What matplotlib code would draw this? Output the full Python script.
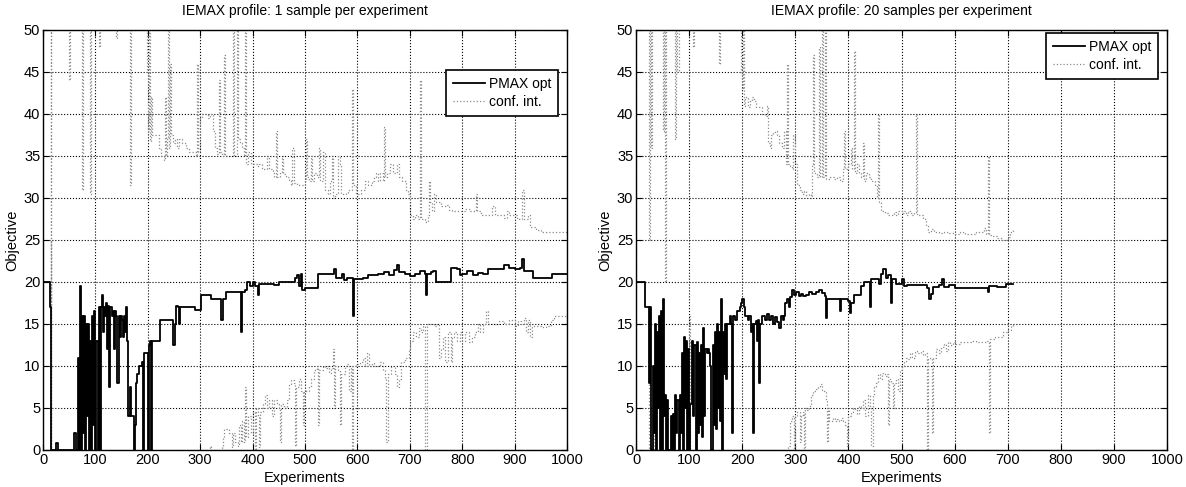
#PURPOSE: IEMAX profile plots, 1 vs 20 samples per experiment

import numpy as np
import matplotlib.pyplot as plt

plt.rcParams['font.family'] = ['Liberation Sans', 'DejaVu Sans']

titles = ['IEMAX profile: 1 sample per experiment', 'IEMAX profile: 20 samples per experiment']
legend_labels = ['PMAX opt', 'conf. int.']

# ---- left panel: 1 sample per experiment ----
# PMAX opt
left_opt_x = [0, 12, 13, 15, 16, 24, 25, 28, 29, 58, 59, 62, 63, 66, 68, 70, 72, 74, 76, 78, 80, 82, 84, 86, 88, 90, 92, 94, 96, 98, 100, 102, 104, 106, 108, 110, 112, 114, 116, 118, 120, 122, 124, 126, 128, 132, 134, 136, 138, 140, 142, 144, 146, 148, 150, 152, 154, 156, 158, 160, 162, 165, 167, 172, 174, 176, 178, 180, 184, 188, 190, 192, 198, 200, 202, 204, 206, 208, 222, 224, 246, 248, 252, 254, 258, 260, 262, 280, 290, 300, 302, 320, 335, 340, 344, 350, 372, 377, 380, 385, 390, 395, 400, 405, 410, 412, 430, 440, 450, 460, 470, 480, 485, 488, 492, 495, 500, 520, 525, 540, 550, 555, 560, 570, 575, 580, 590, 592, 594, 610, 620, 640, 650, 660, 670, 675, 680, 690, 700, 710, 720, 728, 730, 732, 740, 745, 750, 775, 778, 790, 795, 800, 810, 820, 830, 840, 850, 870, 880, 890, 900, 910, 915, 918, 925, 935, 970, 972, 1000]
left_opt_y = [20, 20, 17, 17, 0, 0, 0.8, 0.8, 0, 0, 2, 2, 0, 11, 0, 19.5, 0, 16, 2, 16, 0, 15, 4, 15, 0, 13, 0, 16, 3, 16.5, 0, 13, 0, 17, 0, 17, 18.5, 14, 17, 16, 17.5, 12, 17.2, 7.5, 17, 16, 16.5, 12, 16.5, 16, 8, 16, 13.5, 16, 15.5, 13.5, 16, 14, 17, 13, 4, 7.5, 4, 4, 0, 3, 8, 9, 10, 10.5, 0, 11.5, 11.5, 0, 12.5, 13, 0, 13, 13, 15.5, 15.5, 12.5, 15, 17.2, 17, 15, 17, 17, 16.7, 16.7, 18.5, 18, 18, 15.5, 18, 18.8, 18.8, 14, 18.8, 19, 20, 19.5, 20, 19.5, 18.4, 19.8, 19.8, 19.7, 20, 20, 20, 20.5, 20.8, 19.5, 21, 19, 19.3, 19.3, 21, 21, 21, 21.5, 20.5, 21, 20.2, 20.5, 20.5, 16, 20.3, 20.5, 20.8, 21, 21.2, 20.8, 21.4, 22, 21.2, 21, 20.7, 21, 21.3, 21, 18.5, 21, 21.2, 21.3, 20, 20, 21.7, 21.5, 20.8, 21, 21.3, 20.8, 21.1, 21, 21.5, 21.5, 22, 21.7, 21.5, 21.7, 22.7, 21.3, 21.3, 20.5, 20.5, 21, 21]

# conf. int., upper bound (values above 50 are off the chart)
left_up_x = [5, 14, 15, 16, 48, 50, 52, 72, 74, 76, 88, 90, 92, 104, 106, 108, 138, 140, 142, 163, 165, 167, 196, 198, 200, 202, 204, 206, 208, 212, 218, 222, 226, 230, 232, 234, 236, 238, 240, 242, 244, 248, 252, 256, 260, 266, 272, 278, 286, 292, 294, 296, 300, 304, 310, 314, 318, 322, 325, 328, 332, 335, 337, 342, 346, 348, 360, 362, 364, 368, 370, 372, 376, 380, 384, 386, 388, 392, 396, 400, 404, 408, 412, 418, 424, 428, 432, 438, 440, 444, 446, 452, 456, 458, 464, 470, 474, 476, 478, 484, 490, 496, 500, 502, 504, 508, 512, 514, 518, 522, 526, 528, 532, 535, 538, 544, 548, 552, 554, 558, 562, 566, 568, 572, 578, 582, 588, 590, 592, 598, 602, 606, 610, 614, 620, 628, 632, 636, 640, 644, 648, 650, 652, 656, 662, 668, 672, 676, 680, 686, 692, 696, 700, 706, 710, 716, 720, 722, 728, 734, 736, 738, 742, 746, 750, 754, 760, 770, 775, 780, 786, 800, 805, 815, 820, 826, 828, 836, 846, 850, 856, 862, 874, 880, 885, 890, 905, 910, 915, 918, 925, 930, 940, 950, 960, 970, 1000]
left_up_y = [60, 60, 0, 60, 60, 44, 60, 60, 31, 60, 60, 30.5, 60, 60, 48, 60, 60, 49, 60, 60, 31.5, 60, 60, 45, 38, 50, 36.8, 42, 37.5, 37.5, 37.5, 36, 35, 34.5, 42, 35, 37, 50, 36, 46, 37.5, 36.5, 37, 36, 37, 36.5, 36, 35.5, 35.5, 35, 46, 35.5, 39.5, 40, 40, 39.5, 40, 40, 38, 36, 35.2, 44, 35.5, 35, 47, 35, 35, 50, 35, 35, 50, 37, 36.5, 36, 35, 50, 34, 35.5, 34, 34, 34, 33.8, 34, 33.5, 33.5, 35, 33.5, 33, 32.5, 38, 32.5, 33, 35, 32.8, 32.5, 32.2, 31.5, 36, 31.8, 31.5, 31.5, 31.5, 32, 37, 32.5, 32, 35, 32, 33, 32.5, 36, 32, 32, 35.5, 31, 30.5, 32, 35, 30, 30.5, 35, 34, 30.5, 30.5, 30.6, 31, 31, 43, 31.5, 30.5, 30.5, 31, 31, 32, 31.5, 32, 32.5, 33, 32, 33, 32, 38.5, 32.5, 33, 34, 33, 33, 34, 32.5, 32, 31, 30.5, 28, 27.5, 28, 27.5, 44, 27.5, 27.2, 28, 32, 29.5, 28.5, 30.5, 29.5, 29.5, 29, 29.2, 28.6, 28.5, 28.5, 28.5, 28.7, 28.4, 28.5, 30.5, 28.5, 28, 28, 28, 29, 28, 28, 27.6, 28.5, 28, 27.5, 27.5, 31, 27.5, 28, 26.5, 26.2, 26, 26, 25.9, 26]

# conf. int., lower bound (values below 0 are off the chart)
left_lo_x = [0, 14, 15, 16, 315, 318, 320, 340, 342, 344, 346, 350, 355, 360, 362, 366, 372, 374, 378, 380, 384, 386, 388, 392, 396, 400, 404, 406, 410, 412, 414, 420, 424, 428, 432, 436, 440, 446, 450, 452, 454, 460, 466, 470, 474, 478, 480, 482, 488, 492, 496, 498, 504, 508, 512, 518, 522, 524, 526, 530, 534, 538, 542, 546, 550, 554, 556, 558, 562, 566, 568, 572, 576, 580, 584, 588, 590, 592, 598, 604, 610, 614, 618, 622, 628, 632, 638, 644, 648, 652, 655, 658, 664, 668, 672, 676, 680, 684, 690, 694, 698, 700, 706, 712, 718, 722, 726, 729, 732, 740, 746, 752, 756, 760, 764, 768, 772, 778, 780, 784, 790, 796, 800, 806, 812, 818, 824, 830, 834, 840, 846, 850, 860, 870, 880, 890, 900, 906, 912, 918, 922, 926, 930, 934, 940, 950, 960, 970, 975, 1000]
left_lo_y = [-5, -5, 25, -5, -5, 0.5, -5, -5, 0.5, 1.5, 2.5, 2.5, 2, 0.3, 2, 1, 0.5, 3, 1, 3.5, 1, 7.5, 1.5, 4, 2, 4.5, 0, 5, 4, 0.3, 4.5, 5.5, 6.5, 5, 6, 4, 6, 5.5, 5, 1, 5.5, 5, 6, 7.8, 8.3, 8, 0.5, 7.5, 8.5, 7, 3, 7, 7, 7.5, 8.5, 9.5, 10, 3, 9.5, 9.5, 10, 9.8, 10, 9.2, 9.8, 12, 5, 10, 9.5, 3, 9, 9, 10, 10.2, 7, 10, 0, 10, 10.2, 10.5, 11, 10, 11.5, 10, 10.3, 10, 10, 10.5, 9.5, 8.5, 1, 9, 10, 10, 9, 7.5, 8.5, 10.5, 11, 11, 12, 13, 14, 13.5, 14.5, 14, 14.8, 0, 15, 15, 14.8, 15, 11, 12, 13.5, 10.5, 14, 10.5, 13.5, 14, 13, 14, 13, 14, 12.8, 13.5, 14, 15, 14, 15, 16.5, 15, 15, 15.3, 15, 15.5, 14.8, 15.3, 15, 15.7, 14, 15.5, 13.5, 14.8, 14.8, 14.7, 14.8, 15.5, 16, 16]

# ---- right panel: 20 samples per experiment ----
right_opt_x = [0, 16, 17, 24, 25, 27, 29, 31, 33, 35, 37, 39, 41, 43, 45, 47, 49, 51, 53, 55, 57, 59, 61, 63, 65, 67, 70, 72, 74, 76, 78, 80, 82, 84, 86, 88, 90, 92, 94, 96, 98, 100, 102, 104, 106, 108, 110, 112, 114, 116, 118, 120, 122, 124, 126, 128, 130, 134, 136, 138, 140, 142, 144, 146, 148, 150, 152, 154, 156, 158, 160, 162, 164, 166, 168, 170, 172, 176, 178, 180, 182, 186, 190, 196, 198, 200, 203, 206, 210, 213, 216, 218, 220, 222, 225, 228, 230, 232, 234, 238, 242, 246, 250, 254, 258, 262, 266, 270, 273, 276, 279, 280, 284, 288, 290, 294, 298, 302, 306, 310, 314, 320, 326, 332, 338, 344, 350, 355, 358, 360, 370, 380, 384, 386, 396, 399, 402, 404, 410, 420, 424, 430, 436, 440, 442, 450, 458, 462, 466, 470, 475, 480, 482, 490, 500, 504, 510, 520, 530, 540, 548, 551, 556, 560, 570, 576, 580, 590, 600, 620, 640, 660, 662, 664, 680, 695, 697, 710]
right_opt_y = [20, 20, 17, 17, 8, 17, 0, 10, 2, 15, 0, 14, 5, 16, 0, 16.5, 0, 18, 4, 6.5, 0, 6, 0, 0, 4, 0, 4.3, 0, 6.5, 2, 6, 0, 6.5, 2, 11.5, 0, 13.5, 5, 13, 0, 12, 0, 5.5, 5.5, 13, 4, 12.5, 0, 12.8, 2, 11.5, 3, 12.5, 1.5, 14.5, 4, 12, 11.5, 12, 11.5, 10, 0, 12.5, 3, 14, 2.5, 15, 5, 14, 3.5, 18, 0, 14, 9, 15, 8.5, 15, 16, 15, 2, 16, 15.5, 16.5, 17, 17.5, 18, 17, 16, 15.5, 16, 14, 15, 2, 15, 15.3, 13, 15.5, 8, 15, 16, 15.5, 16.2, 15.5, 16, 15, 15.8, 15.2, 14.5, 16, 15.5, 16, 17.5, 18, 17, 18.2, 19, 18.5, 18.8, 18.3, 18.6, 18.3, 18.5, 18.8, 18.6, 18.8, 19, 18.7, 18.3, 15.7, 18, 18, 18, 16.5, 18, 18, 17.7, 16.3, 17.5, 18.5, 18.5, 19.5, 20, 20, 17, 20.3, 20.3, 19.8, 21, 21.5, 20.5, 20.8, 17.5, 20.3, 19.8, 20.3, 19.5, 19.7, 19.7, 19.7, 19.6, 19.3, 18, 18.6, 19.4, 19.7, 20.3, 19.4, 19.6, 19.3, 19.3, 19.3, 19.3, 18.8, 19.5, 19.4, 19.4, 19.8, 19.8]

right_up_x = [18, 22, 24, 26, 28, 30, 48, 50, 52, 54, 56, 72, 74, 76, 78, 80, 106, 108, 110, 155, 157, 159, 196, 198, 200, 202, 204, 206, 210, 214, 218, 222, 226, 232, 238, 242, 246, 248, 252, 254, 258, 262, 266, 270, 274, 278, 282, 284, 286, 290, 294, 296, 300, 304, 308, 312, 316, 320, 326, 330, 332, 334, 336, 340, 344, 346, 350, 352, 356, 358, 366, 372, 378, 384, 390, 392, 394, 400, 404, 406, 410, 412, 416, 420, 424, 428, 430, 434, 438, 442, 446, 450, 454, 456, 458, 462, 468, 474, 480, 486, 490, 494, 500, 504, 508, 512, 516, 520, 524, 528, 530, 534, 540, 546, 550, 556, 562, 570, 580, 590, 600, 610, 620, 630, 640, 650, 656, 660, 662, 664, 670, 680, 690, 695, 700, 704, 710]
right_up_y = [60, 60, 25, 60, 36, 60, 60, 38, 60, 20, 60, 60, 37, 60, 45, 60, 60, 48, 60, 60, 46, 60, 60, 45, 43, 50, 41, 42, 40.8, 41.5, 42, 41.5, 40.8, 40.8, 40, 39.8, 41, 36.5, 36, 37.5, 37.8, 38, 37.5, 36.5, 36, 38, 34, 46, 34, 33.8, 33.5, 37.5, 34, 31.5, 31, 30.5, 30.8, 30.3, 30.5, 30, 34, 47, 33, 32.5, 48, 32.5, 50, 32.5, 50, 32.3, 32.5, 32.3, 32.5, 32, 33.5, 38, 33.5, 34, 36, 33.5, 47.5, 33, 34, 33, 32.5, 36.5, 32, 33, 32.5, 32, 32, 31.5, 30, 40, 29.5, 28.5, 28.2, 28, 28, 28.3, 28, 28.5, 28.2, 28.5, 28, 28.5, 28.2, 28, 28.3, 40, 28, 28, 27.5, 26.7, 26, 26.3, 26, 25.8, 26, 25.8, 25.7, 26, 25.7, 25.7, 26, 26, 26.4, 25.7, 35, 25.6, 25.5, 25.2, 25, 25, 25.3, 26, 26.3]

right_lo_x = [0, 22, 24, 26, 30, 32, 34, 98, 100, 102, 285, 287, 290, 294, 297, 299, 304, 308, 310, 314, 316, 318, 322, 326, 330, 334, 338, 342, 346, 350, 354, 358, 360, 362, 364, 370, 374, 378, 382, 386, 390, 394, 397, 400, 404, 408, 412, 416, 420, 424, 428, 432, 436, 440, 443, 446, 448, 452, 456, 460, 464, 468, 472, 474, 476, 480, 484, 486, 490, 494, 497, 500, 504, 508, 512, 516, 520, 526, 530, 536, 540, 545, 548, 550, 555, 558, 560, 564, 570, 574, 580, 584, 588, 592, 596, 600, 610, 620, 630, 640, 650, 660, 664, 666, 676, 686, 692, 700, 706, 710]
right_lo_y = [-5, -5, 15, -5, -5, 10, -5, -5, 16, -5, -5, 0.5, 3.5, 4, 0, 4, 4.5, 1, 4.2, 4.5, 0, 5, 4.8, 5.2, 6.5, 7, 7.3, 7.5, 7.8, 7.2, 7, 6, 1, 5, 3.5, 3.8, 3.5, 3.7, 3.4, 3.8, 3.5, 3, 0.5, 4, 4.5, 5, 4.8, 4.3, 5.2, 5, 6, 4, 6.5, 5, 0.5, 6.5, 7.5, 8, 9, 8.5, 9.2, 8.8, 9, 3, 8.5, 8, 5, 8, 8.5, 7, 9.5, 10, 10.5, 11, 10.8, 11.5, 11, 11.8, 11.5, 11.8, 11.3, 11.5, 0, 11, 11, 2, 11, 12, 11.5, 12.3, 12.6, 11.8, 12.8, 12.5, 12.8, 12.6, 12.9, 12.8, 13, 12.8, 12.9, 13, 2, 13.2, 13.5, 13.5, 14, 14.3, 14.8, 15]

panels = [
    (left_opt_x, left_opt_y, left_up_x, left_up_y, left_lo_x, left_lo_y),
    (right_opt_x, right_opt_y, right_up_x, right_up_y, right_lo_x, right_lo_y),
]

fig = plt.figure(figsize=(11.86, 4.87), dpi=100)
ax_rects = [[0.0363, 0.076, 0.4418, 0.8624], [0.5363, 0.076, 0.4477, 0.8624]]
legend_anchor = [(0.983, 0.905), (0.983, 0.993)]
gray = '#8a8a8a'

for i, (ox, oy, ux, uy, lx, ly) in enumerate(panels):
    ax = fig.add_axes(ax_rects[i])
    # conf interval first so the black line sits on top
    h2, = ax.plot(ux, uy, color=gray, linestyle=':', linewidth=0.9, drawstyle='steps-post')
    ax.plot(lx, ly, color=gray, linestyle=':', linewidth=0.9, drawstyle='steps-post')
    h1, = ax.plot(ox, oy, color='black', linewidth=1.3, drawstyle='steps-post')

    ax.set_xlim(0, 1000)
    ax.set_ylim(0, 50)
    ax.set_xticks(np.arange(0, 1001, 100))
    ax.set_yticks(np.arange(0, 51, 5))
    ax.grid(True, color='black', linestyle=':', linewidth=0.8)
    ax.tick_params(direction='in', top=True, right=True, labelsize=10.5, length=4, pad=2)
    for s in ax.spines.values():
        s.set_linewidth(1.0)
    ax.set_title(titles[i], fontsize=10, pad=11)
    ax.set_xlabel('Experiments', fontsize=10.5, labelpad=3)
    ax.set_ylabel('Objective', fontsize=10.5, labelpad=3)

    leg = ax.legend([h1, h2], legend_labels, loc='upper right', bbox_to_anchor=legend_anchor[i],
                    fontsize=10, fancybox=False, framealpha=1, edgecolor='black',
                    handlelength=2.3, borderpad=0.5, labelspacing=0.3, handletextpad=0.3,
                    borderaxespad=0)
    leg.get_frame().set_linewidth(1.2)

plt.savefig('out.png', dpi=100)
